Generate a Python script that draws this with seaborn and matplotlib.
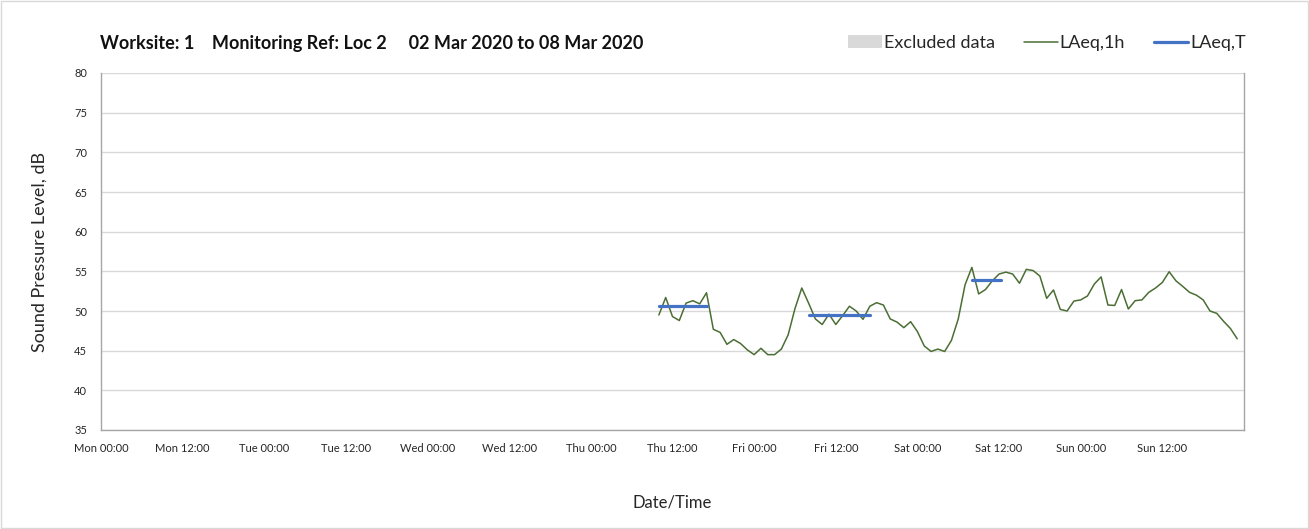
"""
Noise monitoring chart - hourly LAeq with period LAeq,T segments
"""

import matplotlib
matplotlib.use("Agg")

import matplotlib.pyplot as plt
import matplotlib.dates as mdates
from matplotlib.lines import Line2D
from matplotlib.patches import Patch, Rectangle
import seaborn as sns
import numpy as np
import pandas as pd

# --- data -------------------------------------------------------------
week_start = "2020-03-02 00:00"
week_end = "2020-03-09 00:00"
first_hour = "2020-03-05 10:00"

# hourly LAeq,1h values, Thu 10:00 -> Sun 23:00
laeq_1h = [
    49.5, 51.7, 49.3, 48.8, 51.0, 51.3, 50.9, 52.3, 47.7, 47.3, 45.8, 46.4, 45.9, 45.1,
    44.5, 45.3, 44.5, 44.5, 45.2, 47.0, 50.3, 52.9, 51.0, 49.0, 48.3, 49.6,
    48.3, 49.4, 50.6, 50.0, 48.95, 50.6, 51.05, 50.75, 49.0, 48.6, 47.9, 48.65,
    47.4, 45.6, 44.9, 45.2, 44.9, 46.3, 49.0, 53.3, 55.5, 52.15, 52.7, 53.8,
    54.66, 54.9, 54.66, 53.5, 55.25, 55.1, 54.4, 51.6, 52.65, 50.2, 50.0, 51.25,
    51.4, 51.9, 53.4, 54.3, 50.75, 50.7, 52.7, 50.25, 51.3, 51.4, 52.35, 52.9,
    53.6, 54.95, 53.8, 53.1, 52.35, 52.0, 51.4, 50.0, 49.7, 48.7, 47.8, 46.5,
]

# LAeq,T over each monitored working period
period_start = ["2020-03-05 10:00", "2020-03-06 08:00", "2020-03-07 08:00"]
period_end = ["2020-03-05 17:00", "2020-03-06 17:00", "2020-03-07 12:15"]
laeq_t = [50.6, 49.5, 53.9]

title = "Worksite: 1    Monitoring Ref: Loc 2     02 Mar 2020 to 08 Mar 2020"

GREEN = "#4A6E34"
BLUE = "#4472C4"
GREY = "#D9D9D9"

sns.set_style("white")
plt.rcParams["font.family"] = ["Lato", "DejaVu Sans"]

hourly = pd.DataFrame({
    "time": pd.date_range(first_hour, periods=len(laeq_1h), freq="h"),
    "level": laeq_1h,
})
segments = pd.DataFrame({
    "time": pd.to_datetime(period_start + period_end),
    "level": laeq_t + laeq_t,
    "period": list(range(len(laeq_t))) * 2,
})

fig = plt.figure(figsize=(13.09, 5.29), dpi=100)
ax = fig.add_axes([101 / 1309, 1 - 430 / 529, 1143 / 1309, 357 / 529])

sns.lineplot(data=hourly, x="time", y="level", ax=ax, color=GREEN,
             linewidth=1.1, zorder=3)
sns.lineplot(data=segments, x="time", y="level", units="period",
             estimator=None, ax=ax, color=BLUE, linewidth=2.3, zorder=4)

ax.set_xlim(pd.Timestamp(week_start), pd.Timestamp(week_end))
ax.set_ylim(35, 80)
ax.set_yticks(np.arange(35, 81, 5))

# labelled ticks every 12 h, grid lines only at midnight
ax.xaxis.set_major_locator(mdates.HourLocator(byhour=[0, 12]))
ax.xaxis.set_major_formatter(mdates.DateFormatter("%a %H:%M"))
ax.xaxis.set_minor_locator(mdates.DayLocator())
ax.grid(False)
ax.grid(True, axis="y", which="major", color=GREY, linewidth=1)
ax.grid(True, axis="x", which="minor", color=GREY, linewidth=1)
ax.set_axisbelow(True)
ax.tick_params(axis="x", which="major", direction="out", length=4, width=0.8,
               color="#A6A6A6", labelsize=8, labelcolor="#262626", pad=5)
ax.tick_params(axis="x", which="minor", length=0)
ax.tick_params(axis="y", direction="out", length=4, width=0.8,
               color="#A6A6A6", labelsize=8, labelcolor="#262626", pad=6)
# drop the label at the right-hand edge (next Monday)
fig.canvas.draw()
for lbl in ax.get_xticklabels():
    if mdates.num2date(lbl.get_position()[0]).replace(tzinfo=None) >= pd.Timestamp(week_end):
        lbl.set_visible(False)

for side in ["left", "bottom", "right"]:
    ax.spines[side].set_color("#A6A6A6")
    ax.spines[side].set_linewidth(1)
ax.spines["top"].set_visible(False)

ax.set_ylabel("Sound Pressure Level, dB", fontsize=13, color="#262626")
ax.set_xlabel("Date/Time", fontsize=12, color="#262626")
ax.yaxis.set_label_coords(-0.047, 0.5)
ax.xaxis.set_label_coords(0.5, -0.18)

fig.text(100 / 1309, 1 - 43 / 529, title, fontsize=13, fontweight="bold",
         va="center", ha="left", color="#111111")

handles = [
    Patch(facecolor=GREY, edgecolor="none", label="Excluded data"),
    Line2D([], [], color=GREEN, linewidth=1.1, label="LAeq,1h"),
    Line2D([], [], color=BLUE, linewidth=2.3, label="LAeq,T"),
]
fig.legend(handles=handles, loc="center right", ncol=3, frameon=False,
           bbox_to_anchor=(1262 / 1309, 1 - 43 / 529), fontsize=13,
           handlelength=1.9, handletextpad=0.1, columnspacing=1.6,
           labelcolor="#262626")

fig.patches.append(Rectangle((0.001, 0.002), 0.998, 0.996, transform=fig.transFigure,
                             fill=False, edgecolor=GREY, linewidth=1))

fig.savefig("out.png", dpi=100)
